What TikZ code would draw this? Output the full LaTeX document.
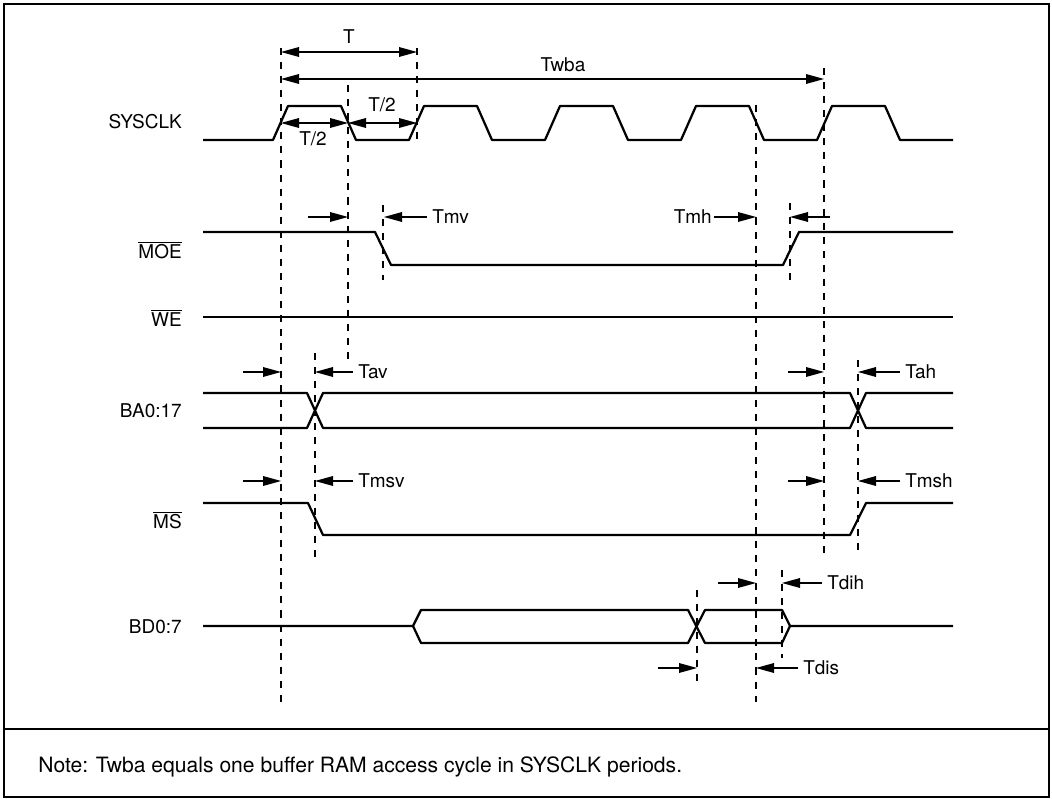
\documentclass[tikz,border=0pt]{standalone}
\usepackage{fontspec}
\setmainfont{TeX Gyre Heros}
\begin{document}
\begin{tikzpicture}[x=0.025cm,y=-0.025cm]
\tikzstyle{every node}+=[inner sep=0pt,font=\fontsize{13.5}{16}\selectfont]
\tikzstyle{sig}=[black,line width=1.6pt,line join=round]
\tikzstyle{guide}=[black,line width=0.8pt,dash pattern=on 5pt off 5pt]
\tikzstyle{dim}=[black,line width=1.1pt]
\useasboundingbox (0,0) rectangle (1052,799);

% frame
\draw [black,line width=2pt] (4,4) rectangle (1049,797);
\draw [black,line width=1.5pt] (4,729) -- (1049,729);
\node [anchor=west,font=\fontsize{15}{18}\selectfont] (note) at (38,767) {Note: Twba equals one buffer RAM access cycle in SYSCLK periods.};

% signal names
\node [anchor=east] (sysclk) at (182,122) {SYSCLK};
\node [anchor=east] (moe) at (182,250) {$\overline{\hbox{MOE}}$};
\node [anchor=east] (we) at (182,318) {$\overline{\hbox{WE}}$};
\node [anchor=east] (ba) at (182,411) {BA0:17};
\node [anchor=east] (ms) at (182,520) {$\overline{\hbox{MS}}$};
\node [anchor=east] (bd) at (182,627) {BD0:7};

% waveforms
\draw [sig] (203,140) foreach \k in {0,...,4} {
  -- ({273+136*\k},140) -- ({288+136*\k},106) -- ({341+136*\k},106) -- ({356+136*\k},140)} -- (953,140);
\draw [sig] (203,232) -- (375,232) -- (391,265) -- (783,265) -- (799,232) -- (953,232);
\draw [sig] (203,317) -- (953,317);
\draw [sig] (203,393) -- (307,393) -- (323,428) -- (850,428) -- (866,393) -- (953,393);
\draw [sig] (203,428) -- (307,428) -- (323,393) -- (850,393) -- (866,428) -- (953,428);
\draw [sig] (203,503) -- (308,503) -- (323,535) -- (850,535) -- (866,503) -- (953,503);
\draw [sig] (203,626) -- (413,626) -- (421,610) -- (688,610) -- (705,643) -- (782,643) -- (790,626) -- (953,626);
\draw [sig] (413,626) -- (421,643) -- (688,643) -- (705,610) -- (782,610) -- (790,626);

% timing guides
\draw [guide] (281,48) -- (281,702);
\draw [guide] (348,85) -- (348,362);
\draw [guide] (417,48) -- (417,145);
\draw [guide] (383,205) -- (383,280);
\draw [guide] (756,105) -- (756,702);
\draw [guide] (790,203) -- (790,280);
\draw [guide] (824,68) -- (824,553);
\draw [guide] (315,353) -- (315,557);
\draw [guide] (858,360) -- (858,553);
\draw [guide] (697,590) -- (697,683);
\draw [guide] (782,570) -- (782,658);

% T and Twba
\draw [dim] (295,52) -- (403,52);
\fill [black] (281,52) -- (299,47) -- (299,57);
\fill [black] (417,52) -- (399,47) -- (399,57);
\draw (349,37) node (t) {T};
\draw [dim] (295,79) -- (810,79);
\fill [black] (281,79) -- (299,74) -- (299,84);
\fill [black] (824,79) -- (806,74) -- (806,84);
\draw (563,65) node (twba) {Twba};

% T/2
\draw [dim] (295,123) -- (334,123);
\fill [black] (281,123) -- (299,118) -- (299,128);
\fill [black] (348,123) -- (330,118) -- (330,128);
\draw (313,139) node (thalfa) {T/2};
\draw [dim] (362,123) -- (403,123);
\fill [black] (348,123) -- (366,118) -- (366,128);
\fill [black] (417,123) -- (399,118) -- (399,128);
\draw (382,105) node (thalfb) {T/2};

% Tmv, Tmh
\draw [dim] (308,217) -- (334,217);
\fill [black] (348,217) -- (330,212) -- (330,222);
\draw [dim] (397,217) -- (427,217);
\fill [black] (384,217) -- (402,212) -- (402,222);
\draw (432,217) node [anchor=west] (tmv) {Tmv};
\draw [dim] (714,217) -- (742,217);
\fill [black] (756,217) -- (738,212) -- (738,222);
\draw (712,217) node [anchor=east] (tmh) {Tmh};
\draw [dim] (803,217) -- (830,217);
\fill [black] (790,217) -- (808,212) -- (808,222);

% Tav, Tah
\draw [dim] (243,372) -- (267,372);
\fill [black] (281,372) -- (263,367) -- (263,377);
\draw [dim] (329,372) -- (353,372);
\fill [black] (315,372) -- (333,367) -- (333,377);
\draw (358,372) node [anchor=west] (tav) {Tav};
\draw [dim] (788,372) -- (810,372);
\fill [black] (824,372) -- (806,367) -- (806,377);
\draw [dim] (872,372) -- (900,372);
\fill [black] (858,372) -- (876,367) -- (876,377);
\draw (905,372) node [anchor=west] (tah) {Tah};

% Tmsv, Tmsh
\draw [dim] (243,481) -- (267,481);
\fill [black] (281,481) -- (263,476) -- (263,486);
\draw [dim] (329,481) -- (353,481);
\fill [black] (315,481) -- (333,476) -- (333,486);
\draw (358,481) node [anchor=west] (tmsv) {Tmsv};
\draw [dim] (788,481) -- (810,481);
\fill [black] (824,481) -- (806,476) -- (806,486);
\draw [dim] (872,481) -- (900,481);
\fill [black] (858,481) -- (876,476) -- (876,486);
\draw (905,481) node [anchor=west] (tmsh) {Tmsh};

% Tdih, Tdis
\draw [dim] (718,583) -- (742,583);
\fill [black] (756,583) -- (738,578) -- (738,588);
\draw [dim] (796,583) -- (822,583);
\fill [black] (782,583) -- (800,578) -- (800,588);
\draw (827,583) node [anchor=west] (tdih) {Tdih};
\draw [dim] (658,668) -- (683,668);
\fill [black] (697,668) -- (679,663) -- (679,673);
\draw [dim] (770,668) -- (798,668);
\fill [black] (756,668) -- (774,663) -- (774,673);
\draw (803,668) node [anchor=west] (tdis) {Tdis};
\end{tikzpicture}
\end{document}
